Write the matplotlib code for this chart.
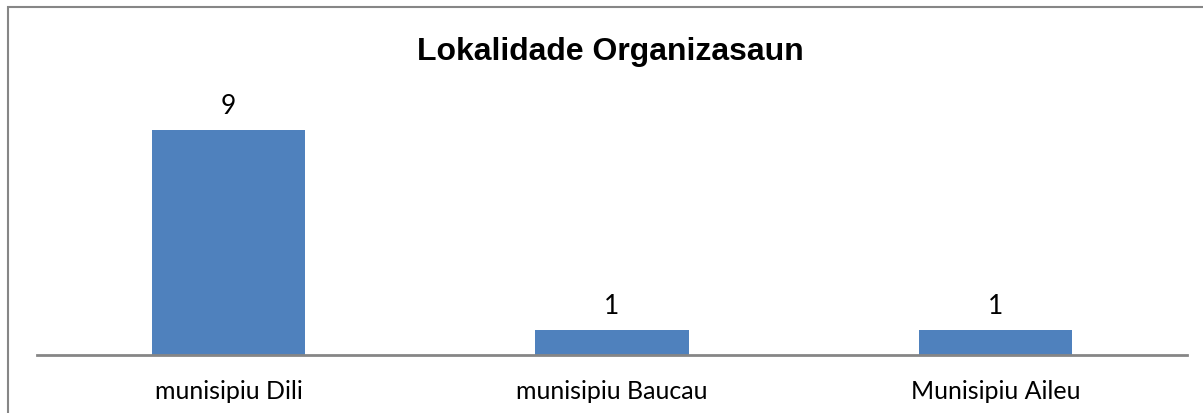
import matplotlib
matplotlib.use("Agg")
import matplotlib.pyplot as plt
from matplotlib.patches import Rectangle

categories = ["munisipiu Dili", "munisipiu Baucau", "Munisipiu Aileu"]
values = [9, 1, 1]
title = "Lokalidade Organizasaun"

W, H = 1203, 414
fig = plt.figure(figsize=(W / 100, H / 100), dpi=100)

# outer chart frame (only top/left visible, rest cut off)
fig.patches.append(Rectangle((8 / W, -0.1), 1.2, 1 - 8 / H + 0.1,
                             transform=fig.transFigure, fill=False,
                             edgecolor="#868686", linewidth=1.5))

ax = fig.add_axes([37 / W, 1 - 356 / H, 1150 / W, 250 / H])
x = range(len(categories))
bars = ax.bar(x, values, width=0.4, color="#4F81BD")
ax.set_xlim(-0.5, len(categories) - 0.5)
ax.set_ylim(0, 10)

for b, v in zip(bars, values):
    ax.text(b.get_x() + b.get_width() / 2, v + 0.7, str(v), ha="center",
            va="baseline", fontsize=19, family="Lato", clip_on=False)

ax.set_xticks(list(x))
ax.set_xticklabels(categories, fontsize=18, family="Lato")
ax.tick_params(axis="x", length=0, pad=17)
ax.set_yticks([])
for s in ["top", "right", "left"]:
    ax.spines[s].set_visible(False)
ax.spines["bottom"].set_color("#868686")
ax.spines["bottom"].set_linewidth(2)

fig.text(610 / W, 1 - 52 / H, title, ha="center", va="center",
         fontsize=23, fontweight="bold", family="Liberation Sans")

fig.savefig("out.png", dpi=100)
